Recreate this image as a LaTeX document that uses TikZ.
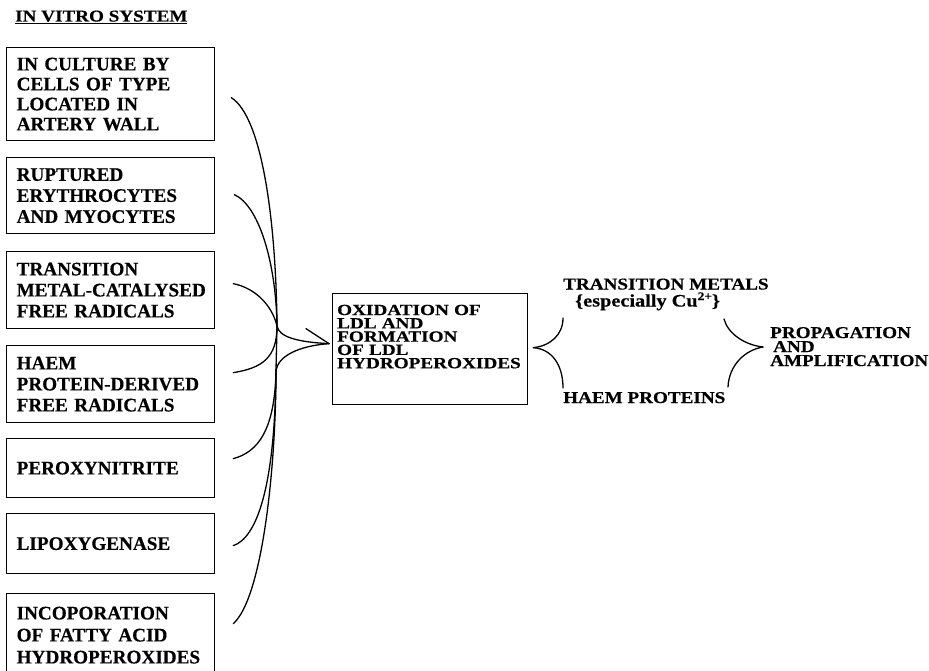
\documentclass[tikz,border=0pt]{standalone}
\usepackage{fontspec}
\setmainfont{Liberation Serif}[BoldFeatures={FakeBold=0.4}]
\newfontfamily\widefont{Liberation Serif}[FakeStretch=1.16,BoldFeatures={FakeBold=0.4}]
\newfontfamily\widerfont{Liberation Serif}[FakeStretch=1.24,BoldFeatures={FakeBold=0.4}]
\usetikzlibrary{calc}
\begin{document}
\begin{tikzpicture}[x=1pt,y=-1pt,
  lbl/.style={font=\widefont\bfseries\fontsize{16.5}{14}\selectfont, inner sep=0pt, anchor=base west},
  srcbox/.style={draw, line width=1.3pt, anchor=north west, text width=188pt,
    inner xsep=10pt, inner ysep=0pt, align=left,
    font=\bfseries\fontsize{19.2}{#1}\selectfont},
  srcbox/.default=21,
  link/.style={line width=1.3pt, line cap=round}
]
\useasboundingbox (0,0) rectangle (929,671);

% heading
\node[lbl] (title) at (15,21.5) {\underline{IN VITRO SYSTEM}};

% source boxes
\node[srcbox=20, minimum height=93pt] (b1) at (6,47)
  {IN CULTURE BY\\CELLS OF TYPE\\LOCATED IN\\ARTERY WALL};
\node[srcbox, minimum height=76pt] (b2) at (6,157)
  {RUPTURED\\ERYTHROCYTES\\AND MYOCYTES};
\node[srcbox, minimum height=77pt] (b3) at (6,251)
  {TRANSITION\\\mbox{METAL-CATALYSED}\\FREE RADICALS};
\node[srcbox, minimum height=77pt] (b4) at (6,345)
  {HAEM\\\mbox{PROTEIN-DERIVED}\\FREE RADICALS};
\node[srcbox, minimum height=59pt] (b5) at (6,438) {PEROXYNITRITE};
\node[srcbox, minimum height=60pt] (b6) at (6,513) {LIPOXYGENASE};
\node[srcbox=22, minimum height=83pt] (b7) at (6,593)
  {INCOPORATION\\OF FATTY ACID\\HYDROPEROXIDES};

% central box
\node[draw, line width=1.3pt, anchor=north west, text width=186pt,
  inner xsep=4.5pt, inner ysep=0pt, align=left, minimum height=111pt,
  text depth=78.5pt, font=\widerfont\bfseries\fontsize{15.5}{13.3}\selectfont] (ox) at (332,293)
  {OXIDATION OF\\LDL AND\\FORMATION\\OF LDL\\HYDROPEROXIDES};

% agents and outcome
\node[lbl] (tm) at (563,289.5) {TRANSITION METALS};
\node[lbl, font=\widefont\bfseries\fontsize{17.5}{14}\selectfont] (esp) at (575,306.5)
  {\{especially Cu\raisebox{6.5pt}{\fontsize{11.5}{11.5}\selectfont 2+}\}};
\node[lbl] (hp) at (563,403) {HAEM PROTEINS};
\node[lbl, text width=164pt, align=left] (pa)
  at (770,338) {PROPAGATION\\\hspace*{3pt}AND\\AMPLIFICATION};

% convergence points of the left brace
\coordinate (tip) at ($(ox.west)+(-3,-5.5)$);
\coordinate (uj) at (277,326);
\coordinate (lj) at (276,370);

\coordinate (s1) at ($(b1.east)+(16,3.5)$);
\coordinate (s2) at ($(b2.east)+(19,-1)$);
\coordinate (s3) at ($(b3.east)+(18,-6.5)$);
\coordinate (s4) at ($(b4.east)+(18,-11.5)$);
\coordinate (s5) at ($(b5.east)+(18,-9.5)$);
\coordinate (s6) at ($(b6.east)+(18,2)$);
\coordinate (s7) at ($(b7.east)+(18,-11.5)$);

% upper sources
\draw[link] (s1) .. controls (262,117) and (276,220) .. (uj);
\draw[link] (s2) .. controls (258,205) and (276,260) .. (uj);
\draw[link] (s3) .. controls (255,288) and (272,305) .. (uj);
\draw[link] (s4) .. controls (262,368) and (277,358) .. (uj);
% lower sources
\draw[link] (s5) .. controls (258,452) and (275,430) .. (lj);
\draw[link] (s6) .. controls (256,538) and (275,490) .. (lj);
\draw[link] (s7) .. controls (262,598) and (276,470) .. (lj);
% spine and arrow into the central box
\draw[link] (uj) -- (lj);
\draw[link] (uj) .. controls (279,337) and (297,342) .. (tip);
\draw[link] (lj) .. controls (279,356) and (298,346) .. (tip);
\draw[link] ($(tip)+(-23,-15)$) -- (tip);

% brace opening towards the two agents
\coordinate (lt) at ($(ox.east)+(5,-1.5)$);
\coordinate (lu) at ($(tm.base west)+(0,28.5)$);
\coordinate (ll) at ($(hp.base west)+(0,-15)$);
\draw[link] (lu) .. controls (563,335) and (550,346) .. (lt);
\draw[link] (lt) .. controls (552,349) and (563,365) .. (ll);

% brace closing towards the outcome
\coordinate (rt) at ($(pa.base west)+(-7,9)$);
\coordinate (ru) at (724,319);
\coordinate (rl) at (728,387);
\draw[link] (ru) .. controls (728,334) and (745,345) .. (rt);
\draw[link] (rt) .. controls (745,350) and (729,365) .. (rl);
\end{tikzpicture}
\end{document}
